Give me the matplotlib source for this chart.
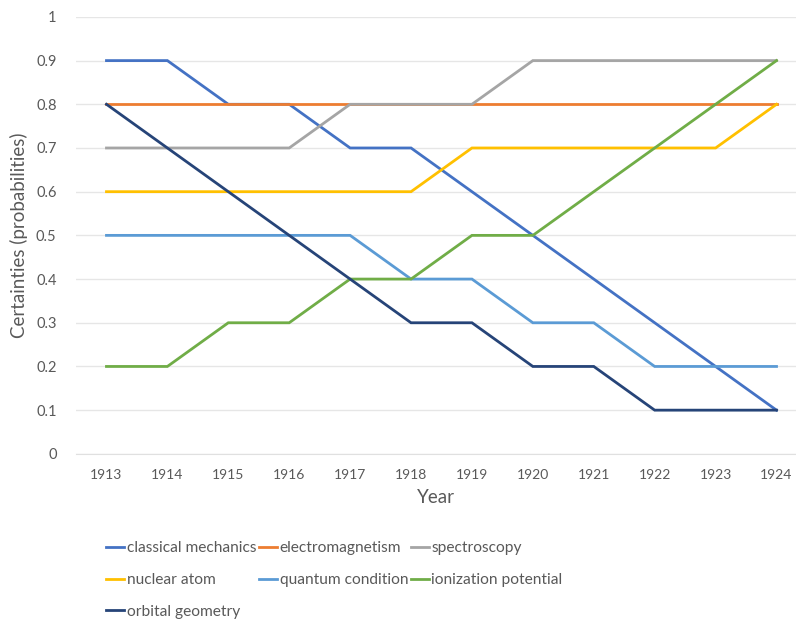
import matplotlib.pyplot as plt

years = ['1913', '1914', '1915', '1916', '1917', '1918',
         '1919', '1920', '1921', '1922', '1923', '1924']

classical_mechanics = [0.9, 0.9, 0.8, 0.8, 0.7, 0.7, 0.6, 0.5, 0.4, 0.3, 0.2, 0.1]
electromagnetism = [0.8, 0.8, 0.8, 0.8, 0.8, 0.8, 0.8, 0.8, 0.8, 0.8, 0.8, 0.8]
spectroscopy = [0.7, 0.7, 0.7, 0.7, 0.8, 0.8, 0.8, 0.9, 0.9, 0.9, 0.9, 0.9]
nuclear_atom = [0.6, 0.6, 0.6, 0.6, 0.6, 0.6, 0.7, 0.7, 0.7, 0.7, 0.7, 0.8]
quantum_condition = [0.5, 0.5, 0.5, 0.5, 0.5, 0.4, 0.4, 0.3, 0.3, 0.2, 0.2, 0.2]
ionization_potential = [0.2, 0.2, 0.3, 0.3, 0.4, 0.4, 0.5, 0.5, 0.6, 0.7, 0.8, 0.9]
orbital_geometry = [0.8, 0.7, 0.6, 0.5, 0.4, 0.3, 0.3, 0.2, 0.2, 0.1, 0.1, 0.1]

series = [
    ('classical mechanics', classical_mechanics, '#4472C4'),
    ('electromagnetism', electromagnetism, '#ED7D31'),
    ('spectroscopy', spectroscopy, '#A5A5A5'),
    ('nuclear atom', nuclear_atom, '#FFC000'),
    ('quantum condition', quantum_condition, '#5B9BD5'),
    ('ionization potential', ionization_potential, '#70AD47'),
    ('orbital geometry', orbital_geometry, '#264478'),
]

plt.rcParams['font.family'] = ['Lato', 'DejaVu Sans']

fig = plt.figure(figsize=(7.96, 6.26), dpi=100)
ax = fig.add_axes([0.0955, 0.275, 0.9045, 0.698])

x = list(range(len(years)))
lines = {}
for name, vals, col in series:
    ln, = ax.plot(x, vals, color=col, lw=2.0, label=name, solid_joinstyle='miter')
    lines[name] = ln

ax.set_xlim(-0.5, 11.32)
ax.set_ylim(0, 1)
ax.set_yticks([0, 0.1, 0.2, 0.3, 0.4, 0.5, 0.6, 0.7, 0.8, 0.9, 1])
ax.set_yticklabels(['0', '0.1', '0.2', '0.3', '0.4', '0.5', '0.6', '0.7', '0.8', '0.9', '1'])
ax.set_xticks(x)
ax.set_xticklabels(years)
ax.tick_params(axis='y', length=0, pad=14, labelsize=10.5, labelcolor='#595959')
ax.tick_params(axis='x', length=0, pad=11, labelsize=10, labelcolor='#595959')
ax.grid(axis='y', color='#E6E6E6', lw=1)
ax.set_axisbelow(True)
for s in ax.spines.values():
    s.set_visible(False)
ax.spines['bottom'].set_visible(True)
ax.spines['bottom'].set_color('#E0E0E0')

ax.set_ylabel('Certainties (probabilities)', fontsize=13.5, color='#595959', labelpad=6)
ax.set_xlabel('Year', fontsize=13.5, color='#595959', labelpad=6)

# column-major order so rows read like the original
order = ['classical mechanics', 'nuclear atom', 'orbital geometry',
         'electromagnetism', 'quantum condition',
         'spectroscopy', 'ionization potential']
fig.legend([lines[n] for n in order], order, ncol=3, loc='upper left',
           bbox_to_anchor=(0.124, 0.148), frameon=False, fontsize=11.2,
           labelcolor='#595959', handlelength=1.15, handletextpad=0.15,
           columnspacing=0.2, labelspacing=1.15, borderpad=0)

fig.savefig('out.png', dpi=100)
